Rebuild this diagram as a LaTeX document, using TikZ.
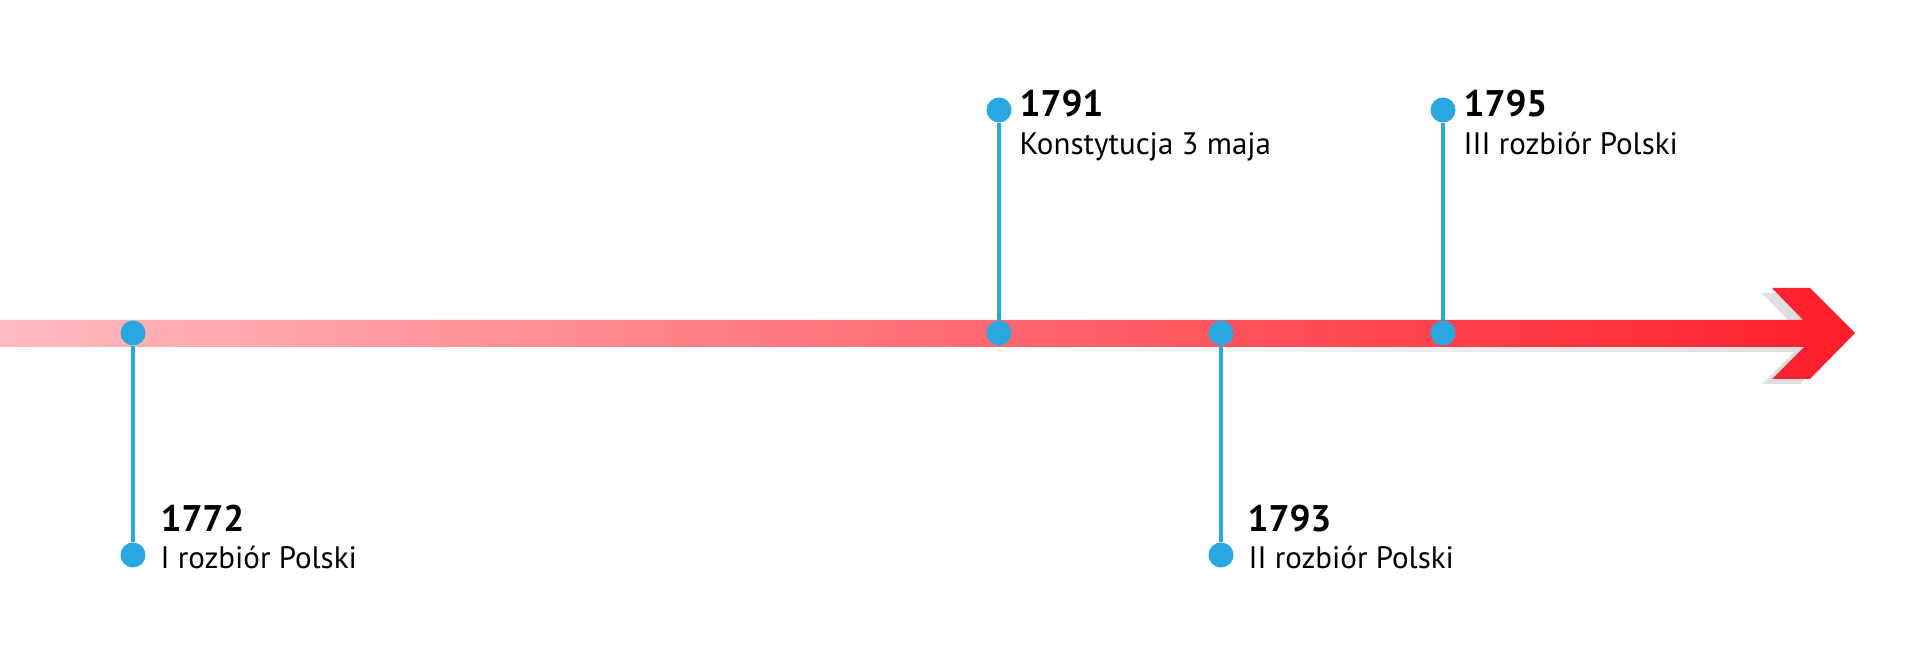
\documentclass[tikz,border=0pt]{standalone}
\usepackage{fontspec}
\setmainfont{PT Sans}
\usepackage{xcolor}
\usetikzlibrary{positioning,calc}

\definecolor{dotblue}{RGB}{41,168,224}
\definecolor{barlight}{RGB}{255,188,192}
\definecolor{bardark}{RGB}{255,30,42}

\begin{document}
\begin{tikzpicture}[
		x=1pt,y=1pt,
		dot/.style={circle,fill=dotblue,inner sep=0pt,minimum size=25pt},
		stem/.style={draw=dotblue,line width=4pt},
		year/.style={anchor=base west,font=\fontsize{37}{40}\selectfont\bfseries},
		event/.style={anchor=base west,font=\fontsize{31}{36}\selectfont},
	]
	% constants:
	\pgfmathsetmacro{\ybar}{334}
	\pgfmathsetmacro{\ytop}{557}
	\pgfmathsetmacro{\ybot}{112}

	\fill[white] (0,0) rectangle (1920,667);

	% shadow
	\shade[left color=white,right color=black!14]
		(1050,315) -- (1794,315) -- (1762,283) -- (1800,283) -- (1845,329)
		-- (1800,374) -- (1762,374) -- (1793,342) -- (1050,342) -- cycle;
	% time axis
	\shade[left color=barlight,right color=bardark]
		(0,320) -- (1804,320) -- (1772,288) -- (1810,288) -- (1855,334)
		-- (1810,379) -- (1772,379) -- (1803,347) -- (0,347) -- cycle;

	% events
	\node[dot] (a1772) at (133,\ybar) {};
	\node[dot] (b1772) at (133,\ybot) {};
	\draw[stem] (a1772) -- (b1772);
	\node[year] (y1772) at (157,135) {1772};
	\node[event] (t1772) at (157,99) {I rozbiór Polski};

	\node[dot] (a1791) at (999,\ybar) {};
	\node[dot] (b1791) at (999,\ytop) {};
	\draw[stem] (a1791) -- (b1791);
	\node[year] (y1791) at (1016,550) {1791};
	\node[event] (t1791) at (1016,512) {Konstytucja 3 maja};

	\node[dot] (a1793) at (1221,\ybar) {};
	\node[dot] (b1793) at (1221,\ybot) {};
	\draw[stem] (a1793) -- (b1793);
	\node[year] (y1793) at (1244,135) {1793};
	\node[event] (t1793) at (1245,99) {II rozbiór Polski};

	\node[dot] (a1795) at (1443,\ybar) {};
	\node[dot] (b1795) at (1443,\ytop) {};
	\draw[stem] (a1795) -- (b1795);
	\node[year] (y1795) at (1460,550) {1795};
	\node[event] (t1795) at (1460,512) {III rozbiór Polski};

\end{tikzpicture}
\end{document}
